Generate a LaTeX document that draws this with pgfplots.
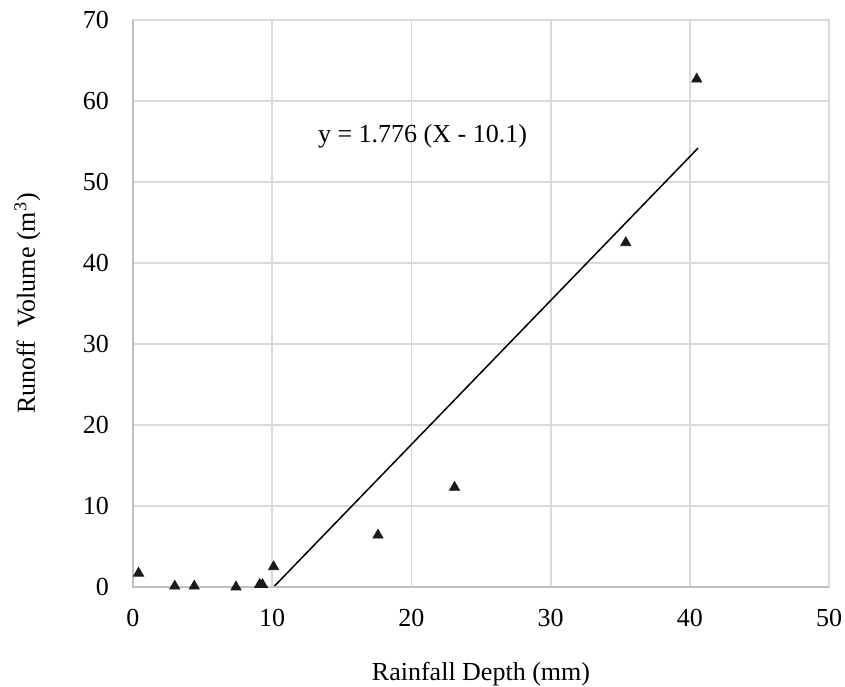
\documentclass[border=0pt]{standalone}
\usepackage{fontspec}
\setmainfont{Liberation Serif}
\usepackage{pgfplots}
\pgfplotsset{compat=1.18}
\definecolor{gridgray}{HTML}{D9D9D9}
\definecolor{axisgray}{HTML}{BFBFBF}
\definecolor{markblack}{HTML}{1A1A1A}

\begin{document}
\fontsize{13}{15}\selectfont
\begin{tikzpicture}
\begin{axis}[
    width=348pt, height=283.5pt,
    scale only axis,
    xmin=0, xmax=50, ymin=0, ymax=70,
    xtick={0,10,...,50}, ytick={0,10,...,70},
    grid=major,
    major grid style={gridgray, line width=0.9pt},
    axis line style={gridgray, line width=0.9pt},
    major tick length=0pt,
    tick label style={font=\fontsize{13}{15}\selectfont},
    /pgf/number format/assume math mode=true,
    xticklabel style={anchor=center, inner sep=0pt, yshift=-15.5pt},
    yticklabel style={xshift=-7.5pt},
    xlabel={Rainfall Depth (mm)},
    ylabel={Runoff\ \ Volume (m\textsuperscript{3})},
    label style={font=\fontsize{13}{15}\selectfont, inner sep=0pt},
    xlabel style={at={(axis description cs:0.5,0)}, anchor=base, yshift=-46.5pt},
    ylabel style={at={(axis description cs:0,0.5)}, anchor=base, yshift=49pt},
    clip=false,
]
% observed events
\addplot[only marks, mark=triangle*, mark size=2.9pt, markblack] coordinates {
    (0.4,1.7) (3.0,0.1) (4.4,0.1) (7.4,0.0) (9.1,0.3) (9.3,0.3)
    (10.1,2.5) (17.6,6.4) (23.1,12.3) (35.4,42.5) (40.5,62.7)
};
% fitted line y = 1.776 (x - 10.1)
\addplot[black, line width=0.75pt] coordinates {(10.1,0) (40.6,54.2)};
\node[font=\fontsize{13}{15}\selectfont] at (axis cs:20.8,55.6) {y = 1.776 (X - 10.1)};
\draw[axisgray, line width=0.9pt] (rel axis cs:0,1) -- (rel axis cs:0,0) -- (rel axis cs:1,0);
\end{axis}
\path ([shift={(-66.5pt,-49.5pt)}]current axis.south west) rectangle ([shift={(8pt,10pt)}]current axis.north east);
\end{tikzpicture}
\end{document}
